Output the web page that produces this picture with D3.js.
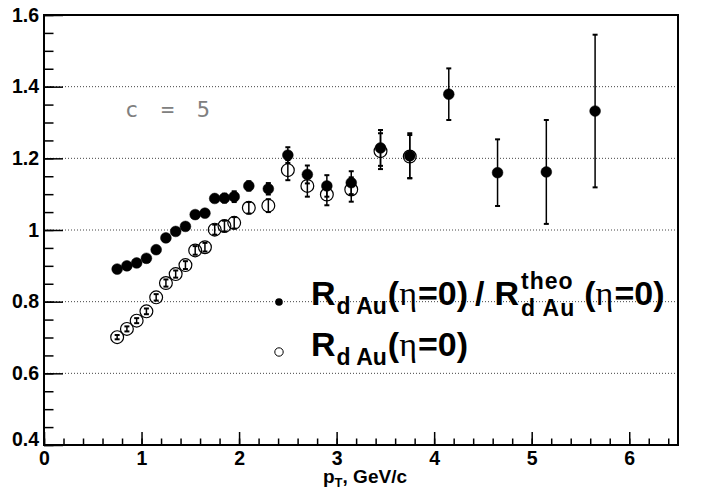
<!DOCTYPE html>
<html>
<head>
<meta charset="utf-8">
<script src="https://cdn.jsdelivr.net/npm/d3@7"></script>
<style>
  body { margin: 0; background: #fff; }
  svg { display: block; }
  .axis path { display: none; }
  .axis line { stroke: #000; stroke-width: 1.5px; }
  .axis text { font-family: "Liberation Sans", Arial, sans-serif; font-weight: bold; font-size: 19.5px; fill: #000; }
</style>
</head>
<body>
<div id="chart"></div>
<script>
// ---- data ----
var ptFilled = [0.75, 0.85, 0.95, 1.05, 1.15, 1.25, 1.35, 1.45, 1.55, 1.65, 1.75, 1.85, 1.95,
                2.1, 2.3, 2.5, 2.7, 2.9, 3.15, 3.45, 3.75, 4.15, 4.65, 5.15, 5.65];
var ratioVals = [0.891, 0.900, 0.908, 0.921, 0.945, 0.978, 0.996, 1.010, 1.043, 1.047, 1.088, 1.089, 1.093,
                 1.123, 1.115, 1.209, 1.155, 1.123, 1.132, 1.229, 1.207, 1.379, 1.160, 1.162, 1.332];
var ratioErr = [0.006, 0.006, 0.006, 0.006, 0.006, 0.007, 0.007, 0.008, 0.008, 0.009, 0.010, 0.012, 0.015,
                0.013, 0.016, 0.022, 0.025, 0.030, 0.032, 0.050, 0.063, 0.072, 0.093, 0.145, 0.213];

var ptOpen = [0.75, 0.85, 0.95, 1.05, 1.15, 1.25, 1.35, 1.45, 1.55, 1.65, 1.75, 1.85, 1.95,
              2.1, 2.3, 2.5, 2.7, 2.9, 3.15, 3.45, 3.75];
var rdauVals = [0.701, 0.724, 0.747, 0.773, 0.812, 0.852, 0.877, 0.902, 0.943, 0.952, 1.001, 1.011, 1.020,
                1.062, 1.068, 1.167, 1.123, 1.099, 1.113, 1.220, 1.205];
var rdauErr = [0.006, 0.007, 0.007, 0.008, 0.009, 0.010, 0.010, 0.011, 0.012, 0.012, 0.014, 0.015, 0.016,
               0.016, 0.018, 0.028, 0.030, 0.030, 0.034, 0.050, 0.060];

var xTicks = [0, 1, 2, 3, 4, 5, 6];
var yTicks = [0.4, 0.6, 0.8, 1.0, 1.2, 1.4, 1.6];
var gridVals = [0.6, 0.8, 1.0, 1.2, 1.4];

var width = 702, height = 491;
var padL = 44, padR = 678, padT = 15, padB = 445;

var svg = d3.select("#chart").append("svg")
    .attr("width", width)
    .attr("height", height);

svg.append("rect").attr("width", width).attr("height", height).attr("fill", "#fff");

var x = d3.scaleLinear().domain([0, 6.5]).range([padL, padR]);
var y = d3.scaleLinear().domain([0.4, 1.6]).range([padB, padT]);

/* dotted grid */
svg.append("g").selectAll("line")
    .data(gridVals).enter()
    .append("line")
    .attr("x1", padL).attr("x2", padR)
    .attr("y1", d => y(d)).attr("y2", d => y(d))
    .attr("stroke", "#444")
    .attr("stroke-width", 1)
    .attr("stroke-dasharray", "1,2");

/* minor ticks */
svg.append("g")
    .attr("class", "axis")
    .attr("transform", `translate(${padL},0)`)
    .call(d3.axisLeft(y).tickValues(d3.range(0.4, 1.6001, 0.05)).tickSize(-9.5).tickFormat(""));
svg.append("g")
    .attr("class", "axis")
    .attr("transform", `translate(0,${padB})`)
    .call(d3.axisBottom(x).tickValues(d3.range(0, 6.5001, 0.2)).tickSize(-6.5).tickFormat(""));

/* major ticks with labels */
var yAxis = svg.append("g")
    .attr("class", "axis")
    .attr("transform", `translate(${padL},0)`)
    .call(d3.axisLeft(y).tickValues(yTicks).tickSize(-19).tickPadding(5)
        .tickFormat(d => d === 1 ? "1" : d3.format(".1f")(d)));
yAxis.selectAll("text").filter(d => d === 0.4).attr("y", -6);

svg.append("g")
    .attr("class", "axis")
    .attr("transform", `translate(0,${padB})`)
    .call(d3.axisBottom(x).tickValues(xTicks).tickSize(-13).tickPadding(6).tickFormat(d3.format("d")));

/* frame */
svg.append("rect")
    .attr("x", padL).attr("y", padT)
    .attr("width", padR - padL).attr("height", padB - padT)
    .attr("fill", "none")
    .attr("stroke", "#000")
    .attr("stroke-width", 2);

/* axis title */
var xt = svg.append("text")
    .attr("x", 365).attr("y", 483)
    .attr("text-anchor", "middle")
    .style("font-family", "Liberation Sans, Arial, sans-serif")
    .style("font-weight", "bold")
    .style("font-size", "19px");
xt.append("tspan").text("p");
xt.append("tspan").attr("dy", 4).style("font-size", "13px").text("T");
xt.append("tspan").attr("dy", -4).text(", GeV/c");

/* c = 5 */
svg.append("text")
    .attr("x", 125).attr("y", 117)
    .attr("textLength", 85)
    .attr("lengthAdjust", "spacing")
    .style("font-family", "DejaVu Sans Mono, monospace")
    .style("font-size", "22px")
    .attr("fill", "#808080")
    .attr("xml:space", "preserve")
    .text("c = 5");

/* series */
function drawSeries(pts, vals, errs, filled) {
    var data = pts.map((p, i) => ({pt: p, v: vals[i], e: errs[i]}));
    var g = svg.append("g");
    var r = filled ? 5.4 : 6.4;
    var bars = g.selectAll(".bar").data(data).enter().append("g");
    bars.append("line")
        .attr("x1", d => x(d.pt)).attr("x2", d => x(d.pt))
        .attr("y1", d => y(d.v + d.e)).attr("y2", d => y(d.v - d.e))
        .attr("stroke", "#000").attr("stroke-width", 1.5);
    [1, -1].forEach(function(s) {
        bars.append("line")
            .attr("x1", d => x(d.pt) - 2.5).attr("x2", d => x(d.pt) + 2.5)
            .attr("y1", d => y(d.v + s * d.e)).attr("y2", d => y(d.v + s * d.e))
            .attr("stroke", "#000").attr("stroke-width", 2);
    });
    g.selectAll("circle").data(data).enter()
        .append("circle")
        .attr("cx", d => x(d.pt))
        .attr("cy", d => y(d.v))
        .attr("r", r)
        .attr("fill", filled ? "#000" : "none")
        .attr("stroke", "#000")
        .attr("stroke-width", filled ? 0.5 : 1.2);
}
drawSeries(ptOpen, rdauVals, rdauErr, false);
drawSeries(ptFilled, ratioVals, ratioErr, true);

/* legend */
var sans = "Liberation Sans, Arial, sans-serif";
var serif = "Liberation Serif, Times New Roman, serif";
var leg = svg.append("g");
var big = 34, small = 23;

function piece(xp, yp, str, size, fam, weight, ls) {
    var t = leg.append("text")
        .attr("x", xp).attr("y", yp)
        .attr("xml:space", "preserve")
        .style("font-family", fam)
        .style("font-weight", weight)
        .style("font-size", size + "px")
        .style("letter-spacing", (ls || 0) + "px")
        .text(str);
    return t.node().getComputedTextLength();
}

function rdau(xp, base) {
    xp += piece(xp, base, "R", big, sans, "bold") + 1;
    xp += piece(xp, base + 9, "d Au", small, sans, "bold") + 1;
    return xp;
}
function eta0(xp, base) {
    xp += piece(xp, base, "(", big, sans, "bold");
    xp += piece(xp, base, "\u03b7", big, serif, "normal") + 1;
    xp += piece(xp, base, "=0)", big, sans, "bold");
    return xp;
}

leg.append("circle").attr("cx", 279).attr("cy", 302).attr("r", 3.8).attr("fill", "#000");
leg.append("circle").attr("cx", 279).attr("cy", 352).attr("r", 4.2).attr("fill", "none")
    .attr("stroke", "#000").attr("stroke-width", 1);

// line 1
var lx = rdau(311, 305);
lx = eta0(lx, 305) + 7;
lx += piece(lx, 305, "/", big, sans, "bold") + 10;
lx += piece(lx, 305, "R", big, sans, "bold") + 2;
var wSup = piece(lx, 289, "theo", small, sans, "bold", 1);
var wSub = piece(lx, 316, "d Au", small, sans, "bold", 1);
lx += Math.max(wSup, wSub) + 9;
eta0(lx, 305);

// line 2
var l2 = rdau(311, 356);
eta0(l2, 356);
</script>
</body>
</html>
